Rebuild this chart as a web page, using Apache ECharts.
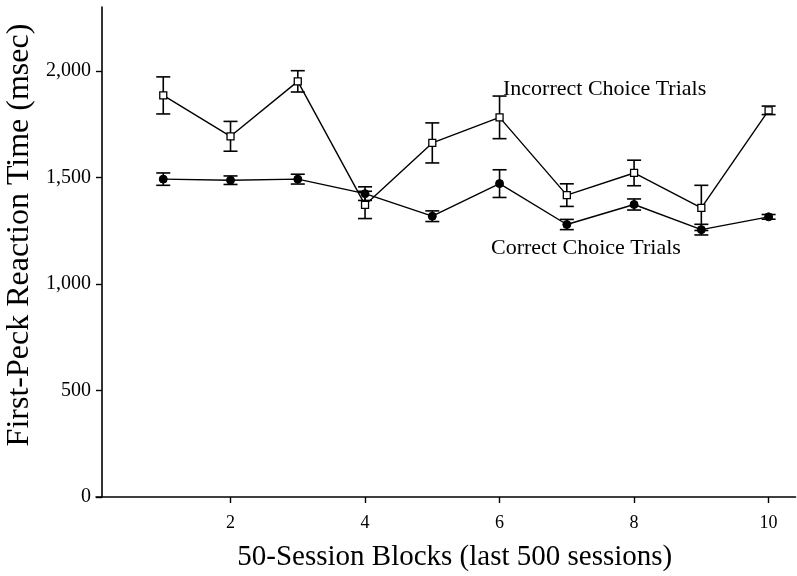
<!DOCTYPE html>
<html>
<head>
<meta charset="utf-8">
<script src="https://cdn.jsdelivr.net/npm/echarts@6/dist/echarts.min.js"></script>
<style>
  html, body { margin: 0; padding: 0; background: #fff; }
  #chart { width: 797px; height: 576px; }
</style>
</head>
<body>
<div id="chart"></div>
<script>
// 50-session blocks
const blocks = [1, 2, 3, 4, 5, 6, 7, 8, 9, 10];
// mean first-peck RT (msec) and error bar half-widths
const incorrectMean = [1885, 1693, 1951, 1371, 1662, 1782, 1417, 1521, 1357, 1815];
const incorrectErr = [87, 70, 50, 64, 94, 100, 53, 60, 106, 20];
const correctMean = [1492, 1487, 1492, 1424, 1318, 1471, 1279, 1373, 1255, 1315];
const correctErr = [29, 20, 23, 32, 25, 65, 24, 26, 25, 11];
const xTicks = [2, 4, 6, 8, 10];
const yTicks = [0, 500, 1000, 1500, 2000];

const serif = "'Liberation Serif', 'Times New Roman', serif";

const pairs = (ys) => blocks.map((b, i) => [b, ys[i]]);
const bars = (ys, es) => blocks.map((b, i) => [b, ys[i] - es[i], ys[i] + es[i]]);

function errorBar(params, api) {
  const x = api.value(0);
  const lo = api.coord([x, api.value(1)]);
  const hi = api.coord([x, api.value(2)]);
  const half = 7;
  const style = { stroke: "#000", lineWidth: 1.6 };
  return {
    type: "group",
    children: [
      { type: "line", shape: { x1: lo[0], y1: lo[1], x2: hi[0], y2: hi[1] }, style },
      { type: "line", shape: { x1: lo[0] - half, y1: lo[1], x2: lo[0] + half, y2: lo[1] }, style },
      { type: "line", shape: { x1: hi[0] - half, y1: hi[1], x2: hi[0] + half, y2: hi[1] }, style }
    ]
  };
}

const chart = echarts.init(document.getElementById("chart"));
chart.setOption({
  animation: false,
  backgroundColor: "#fff",
  grid: { left: 96, right: 1.5, top: 7, bottom: 79, containLabel: false, outerBoundsMode: "none" },
  xAxis: {
    type: "value",
    min: 0,
    max: 10.4,
    interval: 2,
    name: "50-Session Blocks (last 500 sessions)",
    nameLocation: "middle",
    nameGap: 46,
    nameTextStyle: { fontFamily: serif, fontSize: 29, color: "#000", padding: [0, 0, 0, 18] },
    axisLine: { lineStyle: { color: "#000", width: 1.6 } },
    axisTick: { customValues: xTicks, length: 6, lineStyle: { color: "#000", width: 1.4 } },
    axisLabel: { customValues: xTicks, margin: 17, fontFamily: serif, fontSize: 18, color: "#000" },
    splitLine: { show: false }
  },
  yAxis: {
    type: "value",
    min: 0,
    max: 2300,
    interval: 500,
    offset: -6,
    name: "First-Peck Reaction Time (msec)",
    nameLocation: "middle",
    nameRotate: 90,
    nameGap: 58,
    nameTextStyle: { fontFamily: serif, fontSize: 32, color: "#000", padding: [0, 0, 0, 34] },
    axisLine: { show: true, lineStyle: { color: "#000", width: 1.6 } },
    axisTick: { show: true, customValues: yTicks, length: 6, lineStyle: { color: "#000", width: 1.4 } },
    axisLabel: {
      customValues: yTicks,
      margin: 11,
      fontFamily: serif,
      fontSize: 20,
      color: "#000",
      formatter: (v) => v.toLocaleString("en-US")
    },
    splitLine: { show: false }
  },
  graphic: [
    { type: "text", left: 503, top: 78, style: { text: "Incorrect Choice Trials", font: "22px " + serif, fill: "#000" } },
    { type: "text", left: 491, top: 237, style: { text: "Correct Choice Trials", font: "22px " + serif, fill: "#000" } }
  ],
  series: [
    {
      name: "Incorrect error",
      type: "custom",
      renderItem: errorBar,
      data: bars(incorrectMean, incorrectErr),
      z: 2
    },
    {
      name: "Correct error",
      type: "custom",
      renderItem: errorBar,
      data: bars(correctMean, correctErr),
      z: 2
    },
    {
      name: "Incorrect Choice Trials",
      type: "line",
      data: pairs(incorrectMean),
      symbol: "rect",
      symbolSize: 7,
      lineStyle: { color: "#000", width: 1.4 },
      itemStyle: { color: "#fff", borderColor: "#000", borderWidth: 1.3 },
      z: 3
    },
    {
      name: "Correct Choice Trials",
      type: "line",
      data: pairs(correctMean),
      symbol: "circle",
      symbolSize: 8,
      lineStyle: { color: "#000", width: 1.4 },
      itemStyle: { color: "#000", borderColor: "#000" },
      z: 4
    }
  ]
});
</script>
</body>
</html>
